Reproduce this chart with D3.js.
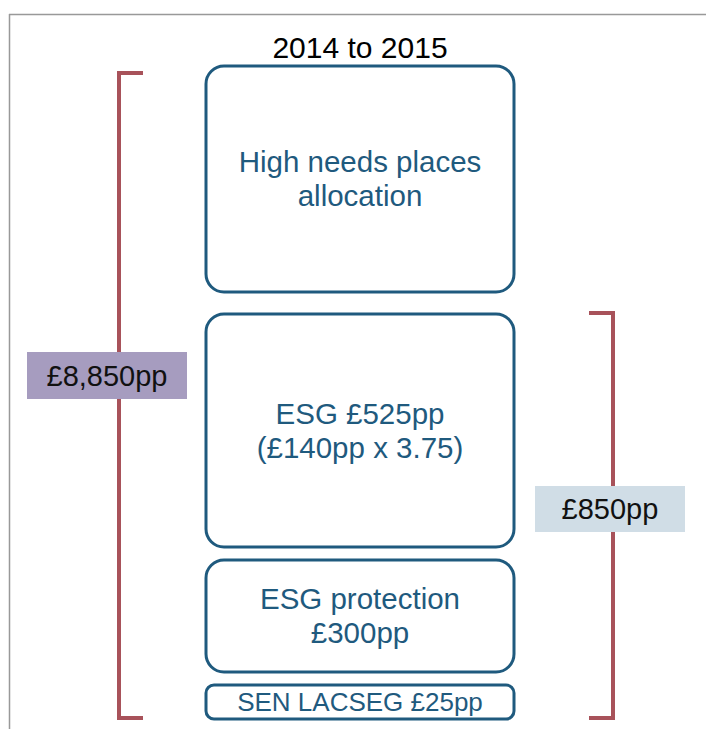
<!DOCTYPE html>
<html>
<head>
<meta charset="utf-8">
<script src="https://cdn.jsdelivr.net/npm/d3@7"></script>
<style>
  body { margin: 0; background: #fff; }
  text { font-family: "Liberation Sans", Arial, sans-serif; }
</style>
</head>
<body>
<script>
// Data
var title = "2014 to 2015";
var boxLabels = [
    ["High needs places", "allocation"],
    ["ESG £525pp", "(£140pp x 3.75)"],
    ["ESG protection", "£300pp"],
    ["SEN LACSEG £25pp"]
];
// relative heights of each block and the gap above it (layout units)
var boxHeights = [226, 233, 112, 34];
var gapsBefore = [0, 22, 13, 13];
var bracketLabels = ["£8,850pp", "£850pp"];
var bracketSpans = [[0, 3], [1, 3]]; // first and last block covered

var width = 706, height = 729;
var blue = "#1f5a7e", red = "#a8525a";

var svg = d3.select("body").append("svg")
    .attr("width", width)
    .attr("height", height);

// frame lines
svg.append("line").attr("x1", 9).attr("x2", width).attr("y1", 14.5).attr("y2", 14.5)
    .style("stroke", "#999").style("stroke-width", 1.5);
svg.append("line").attr("x1", 9.5).attr("x2", 9.5).attr("y1", 14).attr("y2", height)
    .style("stroke", "#999").style("stroke-width", 1.5);

// cumulative layout
var blocks = [];
var acc = 0;
boxHeights.forEach(function(h, i) {
    acc += gapsBefore[i];
    blocks.push({ start: acc, end: acc + h, lines: boxLabels[i] });
    acc += h;
});

var y = d3.scaleLinear().domain([0, acc]).range([66, 719]);
var x = d3.scaleLinear().domain([0, 1]).range([206, 514]);

svg.append("text")
    .attr("x", 360)
    .attr("y", 58)
    .attr("text-anchor", "middle")
    .style("font-size", "30px")
    .style("fill", "#000")
    .text(title);

var g = svg.selectAll("g.block").data(blocks).enter().append("g").attr("class", "block");

g.append("rect")
    .attr("x", x(0))
    .attr("y", d => y(d.start))
    .attr("width", x(1) - x(0))
    .attr("height", d => y(d.end) - y(d.start))
    .attr("rx", d => (y(d.end) - y(d.start)) > 60 ? 18 : 8)
    .style("fill", "#fff")
    .style("stroke", blue)
    .style("stroke-width", 3);

g.each(function(d) {
    var cy = (y(d.start) + y(d.end)) / 2;
    var lh = 34;
    var small = d.lines.length === 1 && (y(d.end) - y(d.start)) < 60;
    d3.select(this).selectAll("text").data(d.lines).enter().append("text")
        .attr("x", (x(0) + x(1)) / 2)
        .attr("y", (t, i) => cy + (i - (d.lines.length - 1) / 2) * lh)
        .attr("dy", "0.35em")
        .attr("text-anchor", "middle")
        .style("font-size", small ? "26px" : "29.5px")
        .style("fill", blue)
        .text(t => t);
});

// brackets
var bracketX = [119, 613];
var tickDir = [1, -1];
var bracketTop = [y(blocks[0].start) + 7, y(blocks[1].start) - 1];
var labelBoxes = [
    { x: 27, y: 352, w: 160, h: 47, fill: "#a69cbf" },
    { x: 535, y: 486, w: 150, h: 46, fill: "#d0dde6" }
];

bracketSpans.forEach(function(span, i) {
    var bx = bracketX[i];
    var top = bracketTop[i];
    var bottom = y(blocks[span[1]].end) - 1;
    svg.append("path")
        .attr("d", "M" + (bx + tickDir[i] * 24) + "," + top +
            "H" + bx + "V" + bottom + "H" + (bx + tickDir[i] * 24))
        .style("fill", "none")
        .style("stroke", red)
        .style("stroke-width", 4);

    var lb = labelBoxes[i];
    svg.append("rect")
        .attr("x", lb.x).attr("y", lb.y)
        .attr("width", lb.w).attr("height", lb.h)
        .style("fill", lb.fill);
    svg.append("text")
        .attr("x", lb.x + lb.w / 2)
        .attr("y", lb.y + lb.h / 2)
        .attr("dy", "0.35em")
        .attr("text-anchor", "middle")
        .style("font-size", "29px")
        .style("fill", "#111")
        .text(bracketLabels[i]);
});
</script>
</body>
</html>
